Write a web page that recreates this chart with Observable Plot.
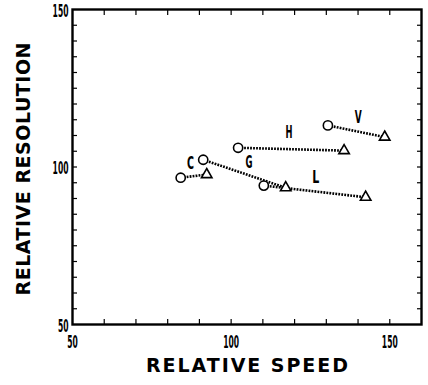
<!DOCTYPE html>
<html><head><meta charset="utf-8">
<script src="https://cdn.jsdelivr.net/npm/d3@7"></script>
<script src="https://cdn.jsdelivr.net/npm/@observablehq/plot@0.6"></script>
<style>body{margin:0;background:#fff}</style>
</head><body><div id="chart"></div>
<script>
// Data
const pairLabels = ["C", "G", "L", "H", "V"];
const circleX = [84.1, 91.2, 110.3, 102.2, 130.5];   // relative speed (open circle)
const circleY = [96.6, 102.3, 94.1, 106.1, 113.2];   // relative resolution (open circle)
const triangleX = [92.3, 117.2, 142.4, 135.6, 148.4]; // relative speed (open triangle)
const triangleY = [97.6, 93.4, 90.4, 105.2, 109.5];   // relative resolution (open triangle)
const labelX = [87.2, 105.6, 126.7, 118.2, 140.1];
const labelY = [101.0, 101.5, 96.6, 110.9, 115.8];

const xTicks = [60, 70, 80, 90, 100, 110, 120, 130, 140, 150];
const yTicks = [55, 60, 65, 70, 75, 80, 85, 90, 95, 100, 105, 110, 115, 120, 125, 130, 135, 140, 145];
const xTickLabels = [50, 100, 150];
const yTickLabels = [50, 100, 150];
const xTitle = "RELATIVE SPEED";
const yTitle = "RELATIVE RESOLUTION";

const pairs = pairLabels.map((label, i) => ({
  label, cx: circleX[i], cy: circleY[i], tx: triangleX[i], ty: triangleY[i], lx: labelX[i], ly: labelY[i]
}));

const narrow = "'Liberation Sans Narrow', 'DejaVu Sans Condensed', sans-serif";
const tickOpts = {tickFormat: () => "", label: null, stroke: "#000", strokeWidth: 1.2};

const plot = Plot.plot({
  width: 428, height: 385,
  marginLeft: 72, marginRight: 7, marginTop: 9, marginBottom: 61,
  x: {domain: [50, 160]},
  y: {domain: [50, 150]},
  style: {background: "#fff", color: "#000", fontFamily: "'DejaVu Sans', sans-serif"},
  marks: [
    Plot.axisX(xTicks, {anchor: "bottom", tickSize: -5, ...tickOpts}),
    Plot.axisX(xTicks, {anchor: "top", tickSize: -5, ...tickOpts}),
    Plot.axisY(yTicks, {anchor: "left", tickSize: -5, ...tickOpts}),
    Plot.axisY(yTicks, {anchor: "right", tickSize: -5, ...tickOpts}),
    Plot.axisX(xTickLabels, {anchor: "bottom", tickSize: 0, tickPadding: 11, label: null,
      fontSize: 18, fontWeight: "bold", fontFamily: narrow}),
    Plot.axisY(yTickLabels, {anchor: "left", tickSize: 0, tickPadding: 4, dy: 2, label: null,
      fontSize: 18, fontWeight: "bold", fontFamily: narrow}),
    Plot.frame({stroke: "#000", strokeWidth: 2.4}),
    Plot.link(pairs, {x1: "cx", y1: "cy", x2: "tx", y2: "ty", stroke: "#000",
      strokeWidth: 2.6, strokeDasharray: "1.8,1.2"}),
    Plot.dot(pairs, {x: "cx", y: "cy", r: 4.6, fill: "#fff", stroke: "#000", strokeWidth: 1.6}),
    Plot.dot(pairs, {x: "tx", y: "ty", symbol: "triangle", r: 3.9, fill: "#fff", stroke: "#000", strokeWidth: 1.6}),
    Plot.text(pairs, {x: "lx", y: "ly", text: "label", fontSize: 18, fontWeight: "bold", fontFamily: narrow}),
    Plot.text([xTitle], {frameAnchor: "bottom", dy: 47, text: d => d, fontSize: 19, fontWeight: "bold",
      textAnchor: "middle", fontFamily: "'DejaVu Sans', sans-serif"}),
    Plot.text([yTitle], {frameAnchor: "left", dx: -49, dy: 2, rotate: -90, text: d => d, fontSize: 19,
      fontWeight: "bold", textAnchor: "middle", fontFamily: "'DejaVu Sans', sans-serif"})
  ]
});

document.getElementById("chart").append(plot);

// Narrow the condensed labels and space out the titles to match the reference
const svg = d3.select(plot);
svg.selectAll('g[aria-label="x-axis tick label"] text, g[aria-label="y-axis tick label"] text').each(function() {
  const n = this.textContent.length;
  this.style.fontSize = "17px";
  this.style.fontWeight = "bold";
  this.style.fontFamily = narrow;
  this.setAttribute("textLength", n * 5.3);
  this.setAttribute("lengthAdjust", "spacingAndGlyphs");
});
svg.selectAll("text").each(function() {
  const t = this.textContent;
  if (pairLabels.includes(t)) {
    this.style.fontSize = "17px";
    this.setAttribute("textLength", 7);
    this.setAttribute("lengthAdjust", "spacingAndGlyphs");
  } else if (t === xTitle) {
    this.setAttribute("textLength", 202);
    this.setAttribute("lengthAdjust", "spacing");
  } else if (t === yTitle) {
    this.setAttribute("textLength", 253);
    this.setAttribute("lengthAdjust", "spacing");
  }
});
</script>
</body></html>
